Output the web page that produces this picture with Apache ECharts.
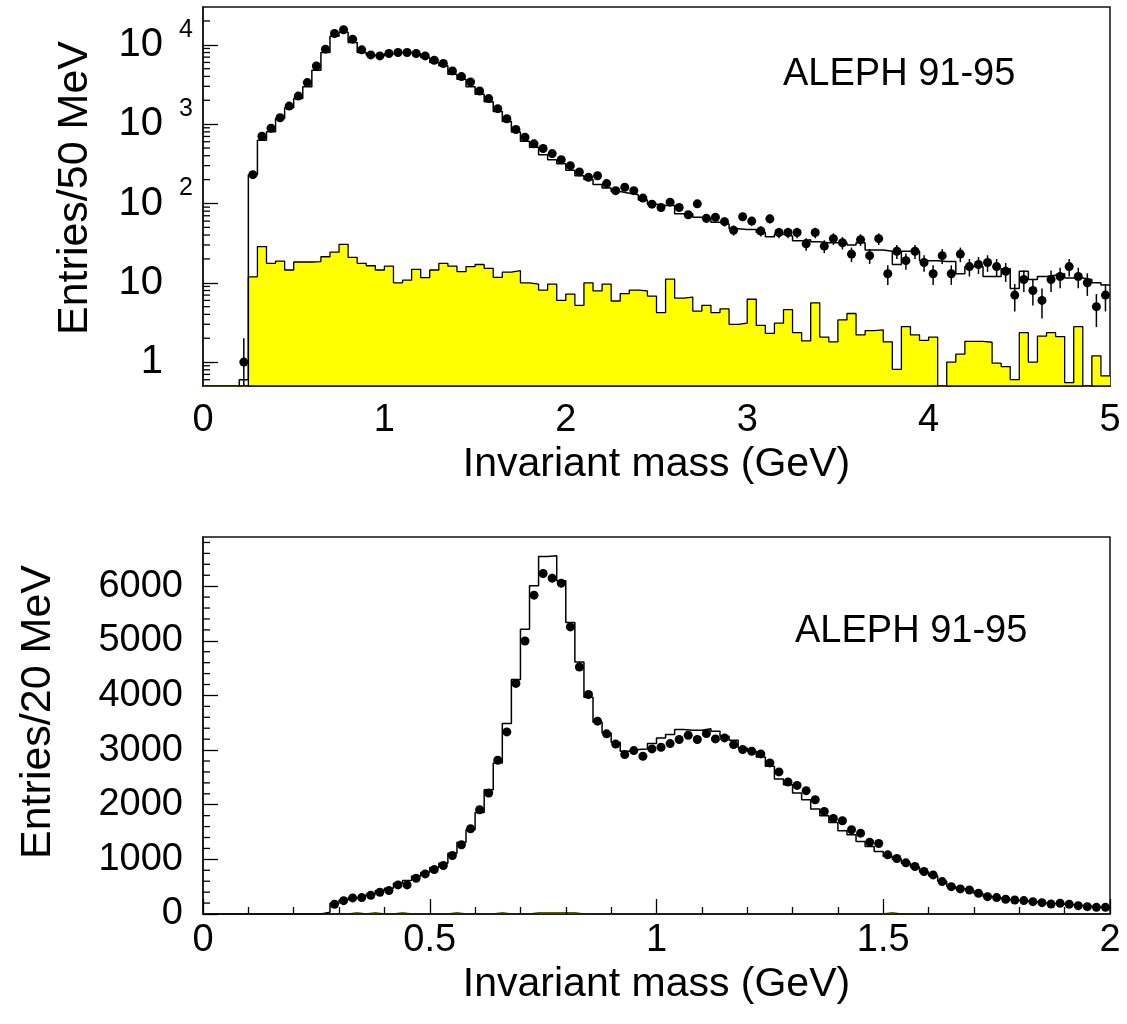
<!DOCTYPE html>
<html>
<head>
<meta charset="utf-8">
<title>ALEPH 91-95 invariant mass</title>
<script src="https://cdn.jsdelivr.net/npm/echarts@6/dist/echarts.min.js"></script>
<style>
  html, body { margin: 0; padding: 0; background: #fff; }
  #chart { width: 1127px; height: 1024px; }
</style>
</head>
<body>
<div id="chart"></div>
<script>
// top panel: 100 bins of 50 MeV from 0 to 5 GeV (log scale)
var topData = [0, 0, 0, 0, 1, 231, 705, 890, 1205, 1690,
  2260, 3340, 5420, 8830, 13900, 15500, 11800, 8650, 7470, 7260,
  7790, 8010, 8010, 7790, 7260, 6400, 5820, 4690, 3980, 3400,
  2620, 2100, 1570, 1170, 857, 685, 565, 493, 426, 357,
  300, 250, 214, 224, 178, 145, 160, 145, 117, 98,
  89, 104, 89, 72, 99, 65, 67, 59, 46, 68,
  60, 45, 64, 43, 43, 43, 31, 43, 29, 36,
  32, 23, 35, 22, 36, 13, 25, 19, 25, 18,
  13, 22, 13, 23, 16, 17, 18, 16, 14, 7,
  11, 8, 6, 11, 12, 16, 12, 10, 5, 7];
var topMC = [0, 0, 0, 0, 0.6, 231, 627, 802, 1180, 1610,
  2100, 2970, 4790, 8010, 12800, 14400, 10700, 8000, 7420, 7260,
  7700, 8000, 8000, 7700, 6930, 5990, 5440, 4250, 3680, 2970,
  2380, 1920, 1440, 1080, 795, 610, 512, 413, 357, 316,
  262, 224, 200, 173, 157, 142, 135, 129, 111, 98,
  94, 94, 74, 74, 67, 64, 58, 55, 48, 47,
  47, 43, 38, 41, 39, 34, 35, 33, 32, 32,
  32, 30, 32, 26, 26, 25, 17, 25, 25, 19,
  19, 18.5, 18.5, 13, 16, 16, 12, 12, 15, 8.5,
  14, 11, 12, 12.5, 13, 11.5, 11.5, 11, 10, 9.4];
var topBkg = [0, 0, 0, 0, 0, 11.9, 28.6, 17.6, 18.8, 14.5,
  18.3, 18.3, 18.5, 21.3, 24.3, 30.6, 20.9, 17.6, 16.4, 14.5,
  16.2, 10.0, 10.8, 14.8, 11.6, 14.5, 17.6, 16.2, 13.8, 16,
  17, 15.2, 11.7, 13.6, 14.2, 10, 9.6, 8.1, 9.6, 6.0,
  7.2, 5.2, 10, 7.9, 9.6, 5.9, 7.3, 8.1, 7.9, 6.8,
  4.2, 11.1, 6.4, 6.6, 4.4, 5.2, 4.2, 4.7, 3.0, 3.1,
  6.2, 2.9, 2.3, 3.1, 4.6, 2.35, 1.85, 5.6, 2.07, 1.8,
  3.4, 4.1, 2.2, 2.5, 2.55, 1.8, 0.81, 2.8, 2.2, 1.88,
  2.07, 0, 1.0, 1.26, 1.83, 1.83, 1.78, 0.97, 0.88, 0.6,
  2.35, 1.0, 2.13, 2.35, 2.1, 0.55, 2.8, 0, 1.2, 0.67];

// bottom panel: 100 bins of 20 MeV from 0 to 2 GeV (linear scale)
var botData = [0, 0, 0, 0, 0, 0, 0, 0, 0, 0,
  0, 0, 0, 0, 178, 244, 294, 300, 343, 398,
  428, 532, 532, 654, 734, 813, 887, 1070, 1266, 1560,
  1908, 2214, 2813, 3333, 4220, 4997, 5835, 6233, 6147, 6055,
  5254, 4520, 4018, 3529, 3297, 3110, 2917, 2991, 2887, 3022,
  3052, 3119, 3193, 3272, 3193, 3303, 3205, 3223, 3101, 3009,
  2978, 2930, 2765, 2600, 2416, 2354, 2257, 2092, 1877, 1749,
  1706, 1541, 1480, 1315, 1290, 1083, 1015, 936, 869, 777,
  716, 593, 501, 459, 440, 379, 318, 300, 269, 257,
  245, 226, 208, 183, 196, 178, 153, 134, 122, 122];
var botMC = [0, 0, 0, 0, 0, 0, 0, 0, 0, 0,
  0, 0, 0, 31, 196, 257, 294, 330, 367, 428,
  471, 563, 611, 697, 758, 850, 930, 1113, 1315, 1541,
  1859, 2275, 2765, 3486, 4294, 5211, 6006, 6545, 6556, 6097,
  5333, 4612, 3969, 3511, 3315, 3143, 2978, 3009, 3022, 3119,
  3223, 3284, 3376, 3364, 3364, 3389, 3346, 3254, 3180, 3040,
  2978, 2875, 2703, 2471, 2367, 2214, 2092, 1921, 1798, 1675,
  1523, 1450, 1327, 1235, 1143, 1052, 1003, 930, 860, 770,
  700, 600, 505, 460, 430, 375, 320, 295, 265, 250,
  240, 222, 205, 190, 180, 170, 155, 140, 128, 120];
var botBkg = [0, 0, 0, 0, 0, 0, 0, 0, 0, 0,
  0, 0, 0, 0, 0, 0, 25, 0, 25, 0,
  0, 25, 0, 0, 0, 0, 0, 25, 0, 0,
  0, 0, 25, 0, 0, 0, 25, 25, 25, 25,
  25, 0, 0, 0, 0, 0, 0, 0, 0, 0,
  0, 0, 0, 0, 0, 0, 0, 0, 0, 0,
  0, 0, 0, 0, 0, 0, 0, 0, 0, 0,
  0, 0, 0, 0, 0, 25, 0, 0, 0, 0,
  0, 0, 0, 0, 0, 0, 0, 0, 0, 0,
  0, 0, 0, 0, 0, 0, 0, 0, 0, 0];

var topBinWidth = 0.05;
var botBinWidth = 0.02;
var topYMajor = [1, 10, 100, 1000, 10000];
var topYMinorMult = [2, 3, 4, 5, 6, 7, 8, 9];
var botYStep = 200;

var FONT = "'Liberation Sans', Arial, Helvetica, sans-serif";
var LOG_FLOOR = 0.001;   // stands in for empty bins on the log axis

// histogram outline: left edge of each bin, plus the right edge of the last one
function stepLine(vals, w, floor) {
    var pts = [];
    for (var i = 0; i < vals.length; i++) {
        pts.push([i * w, vals[i] > 0 ? vals[i] : floor]);
    }
    pts.push([vals.length * w, vals[vals.length - 1] > 0 ? vals[vals.length - 1] : floor]);
    return pts;
}

function centers(vals, w) {
    var pts = [];
    for (var i = 0; i < vals.length; i++) {
        if (vals[i] > 0) pts.push([(i + 0.5) * w, vals[i]]);
    }
    return pts;
}

function errorBar(floor) {
    return function (params, api) {
        var x = api.value(0), v = api.value(1), e = Math.sqrt(v);
        var lo = v - e > floor ? v - e : floor;
        var p1 = api.coord([x, v + e]);
        var p2 = api.coord([x, lo]);
        return {
            type: 'line',
            shape: { x1: p1[0], y1: p1[1], x2: p2[0], y2: p2[1] },
            style: { stroke: '#000', lineWidth: 1.5 }
        };
    };
}

function yMinorTick(params, api) {
    var p = api.coord([0, api.value(1)]);
    return {
        type: 'line',
        shape: { x1: p[0], y1: p[1], x2: p[0] + 7, y2: p[1] },
        style: { stroke: '#000', lineWidth: 1.3 }
    };
}

var topMinor = [[0, 0.6], [0, 0.7], [0, 0.8], [0, 0.9]];
topYMajor.forEach(function (m) {
    topYMinorMult.forEach(function (k) {
        if (m * k < 30000) topMinor.push([0, m * k]);
    });
});
var botMinor = [];
for (var t = botYStep; t < 6900; t += botYStep) {
    if (t % 1000 !== 0) botMinor.push([0, t]);
}

function logLabel(val) {
    var n = Math.round(Math.log10(val));
    if (Math.abs(val - Math.pow(10, n)) > 1e-6 * val) return '';
    if (n === 0) return '{b|1}{s| }';
    if (n === 1) return '{b|10}{s| }';
    return '{b|10}{s|' + n + '}';
}

var axisLine = { show: true, lineStyle: { color: '#111', width: 1.5 } };

var chart = echarts.init(document.getElementById('chart'));
var option = {
    backgroundColor: '#fff',
    animation: false,
    grid: [
        { left: 203, right: 17, top: 7, height: 379, show: true, borderColor: '#111', borderWidth: 1.5 },
        { left: 203, right: 17, top: 537, height: 377, show: true, borderColor: '#111', borderWidth: 1.5 }
    ],
    xAxis: [
        {
            gridIndex: 0, type: 'value', min: 0, max: 5, interval: 1, z: 5,
            axisLine: axisLine,
            axisTick: { show: false },
            splitLine: { show: false },
            axisLabel: { fontSize: 38, fontFamily: FONT, color: '#000', margin: 16 },
            name: 'Invariant mass (GeV)', nameLocation: 'middle', nameGap: 58,
            nameTextStyle: { fontSize: 41, fontFamily: FONT, color: '#000' }
        },
        {
            gridIndex: 1, type: 'value', min: 0, max: 2, interval: 0.5, z: 5,
            axisLine: axisLine,
            axisTick: { show: true, inside: true, length: 15, lineStyle: { color: '#000', width: 1.3 } },
            minorTick: { show: true, splitNumber: 5, length: 7, lineStyle: { color: '#000', width: 1.3 } },
            splitLine: { show: false },
            axisLabel: { fontSize: 38, fontFamily: FONT, color: '#000', margin: 8 },
            name: 'Invariant mass (GeV)', nameLocation: 'middle', nameGap: 50,
            nameTextStyle: { fontSize: 41, fontFamily: FONT, color: '#000' }
        }
    ],
    yAxis: [
        {
            gridIndex: 0, type: 'log', logBase: 10, min: 0.5, max: 30000, z: 5,
            axisLine: axisLine,
            axisTick: { show: true, inside: true, length: 15, lineStyle: { color: '#000', width: 1.3 } },
            splitLine: { show: false },
            axisLabel: {
                showMinLabel: false, showMaxLabel: false, margin: 10,
                formatter: logLabel,
                rich: {
                    b: { fontSize: 40, fontFamily: FONT, color: '#000', verticalAlign: 'middle' },
                    s: { fontSize: 25, fontFamily: FONT, color: '#000', verticalAlign: 'middle',
                         width: 17, padding: [0, 0, 30, 13] }
                }
            }
        },
        {
            gridIndex: 1, type: 'value', min: 0, max: 6900, interval: 1000, z: 5,
            axisLine: axisLine,
            axisTick: { show: true, inside: true, length: 15, lineStyle: { color: '#000', width: 1.3 } },
            splitLine: { show: false },
            axisLabel: {
                showMaxLabel: false, margin: 20, fontSize: 38, fontFamily: FONT, color: '#000',
                formatter: function (v) { return v % 1000 === 0 ? String(v) : ''; }
            }
        }
    ],
    graphic: [
        { type: 'text', x: 75, y: 188, rotation: Math.PI / 2,
          style: { text: 'Entries/50 MeV', font: '43px ' + FONT, fill: '#000', align: 'center', verticalAlign: 'middle' } },
        { type: 'text', x: 38, y: 712, rotation: Math.PI / 2,
          style: { text: 'Entries/20 MeV', font: '43px ' + FONT, fill: '#000', align: 'center', verticalAlign: 'middle' } },
        { type: 'text', x: 783, y: 75,
          style: { text: 'ALEPH 91-95', font: '38px ' + FONT, fill: '#000', align: 'left', verticalAlign: 'middle' } },
        { type: 'text', x: 795, y: 632,
          style: { text: 'ALEPH 91-95', font: '38px ' + FONT, fill: '#000', align: 'left', verticalAlign: 'middle' } }
    ],
    series: [
        // top panel
        {
            name: 'background', type: 'line', xAxisIndex: 0, yAxisIndex: 0,
            data: stepLine(topBkg, topBinWidth, LOG_FLOOR), step: 'end', symbol: 'none',
            lineStyle: { color: '#000', width: 1.3 },
            areaStyle: { color: '#ffff00', opacity: 1, origin: 'start' },
            clip: true, z: 2
        },
        {
            name: 'MC', type: 'line', xAxisIndex: 0, yAxisIndex: 0,
            data: stepLine(topMC, topBinWidth, LOG_FLOOR), step: 'end', symbol: 'none',
            lineStyle: { color: '#000', width: 1.5 }, clip: true, z: 3
        },
        {
            name: 'errors', type: 'custom', xAxisIndex: 0, yAxisIndex: 0,
            data: centers(topData, topBinWidth), renderItem: errorBar(LOG_FLOOR), clip: true, z: 4
        },
        {
            name: 'data', type: 'scatter', xAxisIndex: 0, yAxisIndex: 0,
            data: centers(topData, topBinWidth), symbol: 'circle', symbolSize: 9,
            itemStyle: { color: '#000', opacity: 1 }, clip: true, z: 4
        },
        {
            name: 'minor ticks', type: 'custom', xAxisIndex: 0, yAxisIndex: 0,
            data: topMinor, renderItem: yMinorTick, z: 6, silent: true
        },
        // bottom panel
        {
            name: 'background', type: 'line', xAxisIndex: 1, yAxisIndex: 1,
            data: stepLine(botBkg, botBinWidth, 0), step: 'end', symbol: 'none',
            lineStyle: { color: '#5a5a00', width: 1.3 },
            areaStyle: { color: '#ffff00', opacity: 1 },
            clip: true, z: 2
        },
        {
            name: 'MC', type: 'line', xAxisIndex: 1, yAxisIndex: 1,
            data: stepLine(botMC, botBinWidth, 0), step: 'end', symbol: 'none',
            lineStyle: { color: '#000', width: 1.5 }, clip: true, z: 3
        },
        {
            name: 'errors', type: 'custom', xAxisIndex: 1, yAxisIndex: 1,
            data: centers(botData, botBinWidth), renderItem: errorBar(0), clip: true, z: 4
        },
        {
            name: 'data', type: 'scatter', xAxisIndex: 1, yAxisIndex: 1,
            data: centers(botData, botBinWidth), symbol: 'circle', symbolSize: 9,
            itemStyle: { color: '#000', opacity: 1 }, clip: true, z: 4
        },
        {
            name: 'minor ticks', type: 'custom', xAxisIndex: 1, yAxisIndex: 1,
            data: botMinor, renderItem: yMinorTick, z: 6, silent: true
        }
    ]
};
chart.setOption(option);
</script>
</body>
</html>
